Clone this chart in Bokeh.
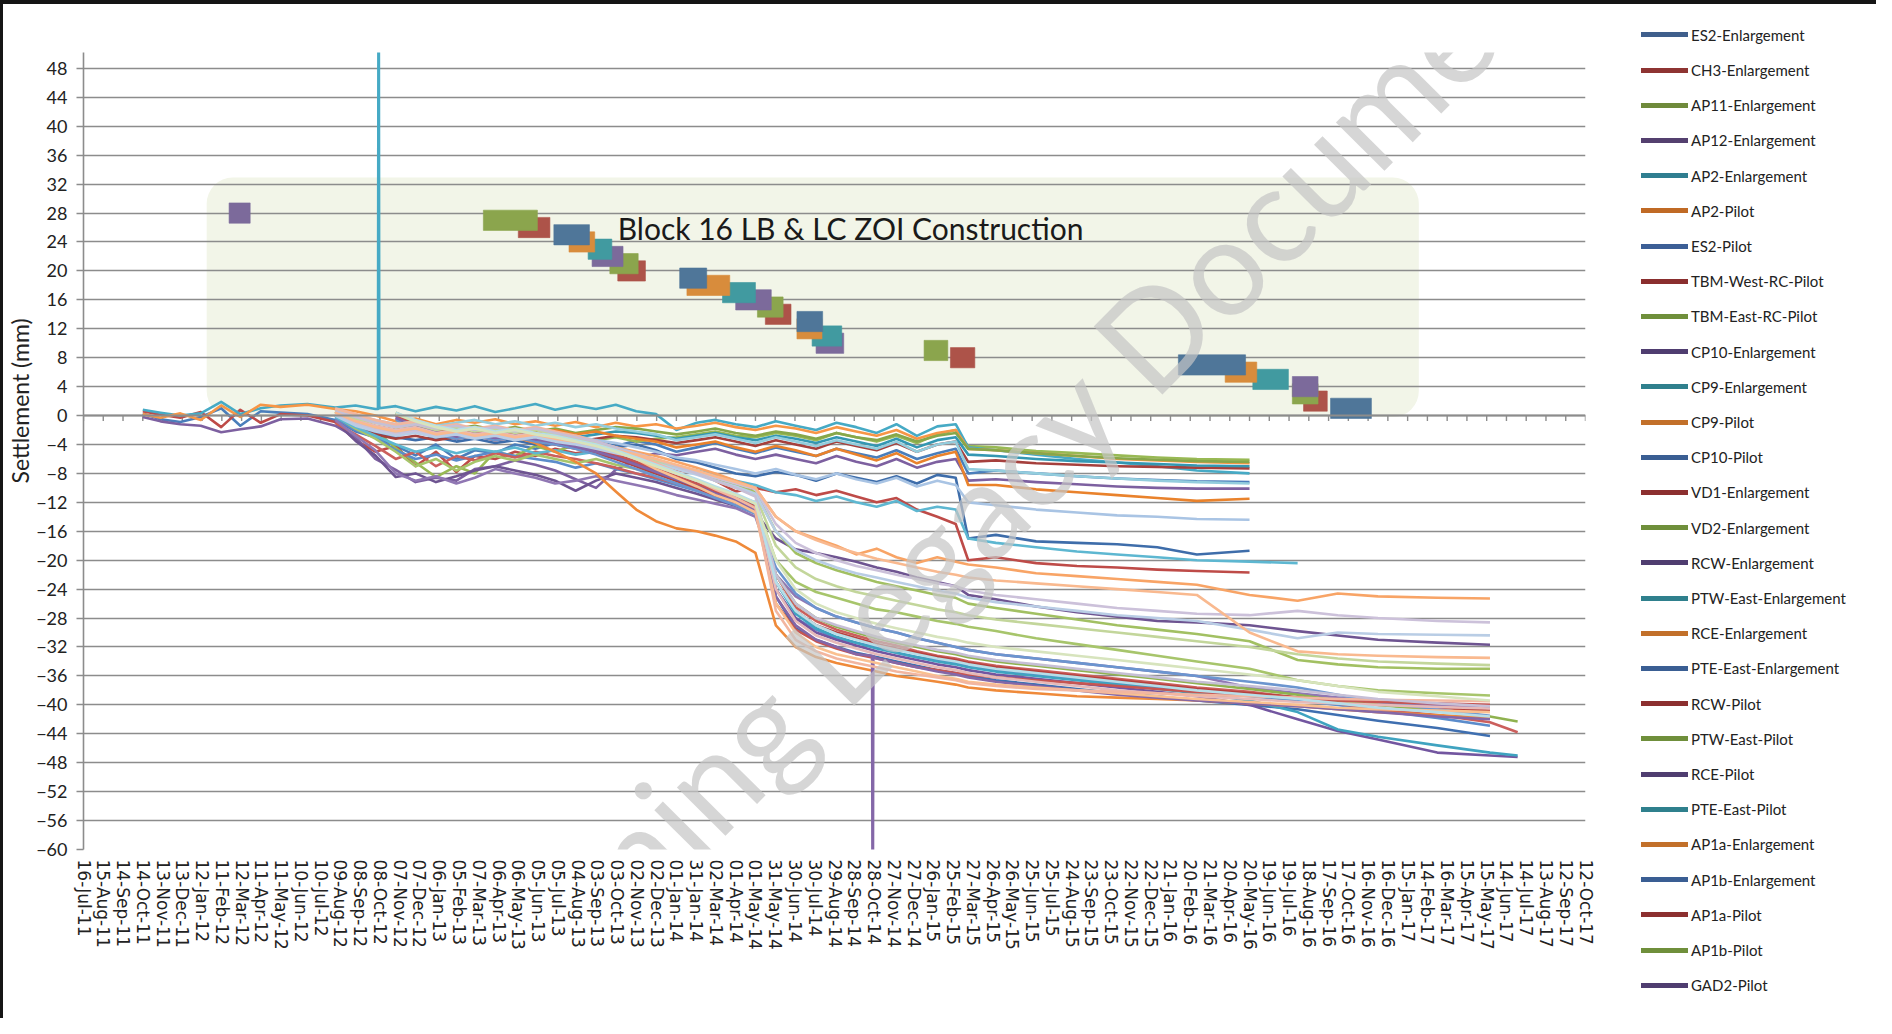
import numpy as np
import pandas as pd
from bokeh.plotting import figure
from bokeh.layouts import row
from bokeh.models import (Range1d, FixedTicker, SingleIntervalTicker, DatetimeTickFormatter,
                          BoxAnnotation, Span, Label, Title, Div)
from bokeh.embed import file_html
from bokeh.resources import INLINE

# ---------------- data ----------------
x_tick_labels = [
    "16-Jul-11", "15-Aug-11", "14-Sep-11", "14-Oct-11", "13-Nov-11", "13-Dec-11", "12-Jan-12",
    "11-Feb-12", "12-Mar-12", "11-Apr-12", "11-May-12", "10-Jun-12", "10-Jul-12", "09-Aug-12",
    "08-Sep-12", "08-Oct-12", "07-Nov-12", "07-Dec-12", "06-Jan-13", "05-Feb-13", "07-Mar-13",
    "06-Apr-13", "06-May-13", "05-Jun-13", "05-Jul-13", "04-Aug-13", "03-Sep-13", "03-Oct-13",
    "02-Nov-13", "02-Dec-13", "01-Jan-14", "31-Jan-14", "02-Mar-14", "01-Apr-14", "01-May-14",
    "31-May-14", "30-Jun-14", "30-Jul-14", "29-Aug-14", "28-Sep-14", "28-Oct-14", "27-Nov-14",
    "27-Dec-14", "26-Jan-15", "25-Feb-15", "27-Mar-15", "26-Apr-15", "26-May-15", "25-Jun-15",
    "25-Jul-15", "24-Aug-15", "23-Sep-15", "23-Oct-15", "22-Nov-15", "22-Dec-15", "21-Jan-16",
    "20-Feb-16", "21-Mar-16", "20-Apr-16", "20-May-16", "19-Jun-16", "19-Jul-16", "18-Aug-16",
    "17-Sep-16", "17-Oct-16", "16-Nov-16", "16-Dec-16", "15-Jan-17", "14-Feb-17", "16-Mar-17",
    "15-Apr-17", "15-May-17", "14-Jun-17", "14-Jul-17", "13-Aug-17", "12-Sep-17", "12-Oct-17"]

survey_dates = [
    "2011-10-14", "2011-11-10", "2011-12-10", "2012-01-10", "2012-02-10",
    "2012-03-10", "2012-04-10", "2012-05-10", "2012-06-20", "2012-08-01",
    "2012-09-01", "2012-10-01", "2012-11-01", "2012-12-01", "2013-01-01",
    "2013-02-01", "2013-03-01", "2013-04-01", "2013-05-01", "2013-06-01",
    "2013-07-01", "2013-08-01", "2013-09-01", "2013-10-01", "2013-11-01",
    "2013-12-01", "2014-01-01", "2014-02-01", "2014-03-01", "2014-04-01",
    "2014-05-01", "2014-06-01", "2014-07-01", "2014-08-01", "2014-09-01",
    "2014-10-01", "2014-11-01", "2014-12-01", "2015-01-01", "2015-02-01",
    "2015-03-01", "2015-03-20", "2015-05-01", "2015-07-01", "2015-09-01",
    "2015-11-01", "2016-01-01", "2016-03-01", "2016-05-20", "2016-08-01",
    "2016-10-01", "2016-12-01", "2017-03-01", "2017-05-20", "2017-07-01"]

# settlement readings (mm); each series starts at the survey index given in series_start
ES2_Enlargement = [0.3, -0.5, -0.9, -0.2, 1.0, -1.4, 0.6, 0.4, 0.2, -0.6,
    -2.2, -3.0, -4.2, -5.5, -4.0, -6.0, -4.8, -5.2, -4.0, -4.6, -3.8, -4.4, -3.6, -4.2, -3.5, -4.0,
    -5.0, -4.4, -3.8, -4.6, -5.2, -4.4, -5.0, -5.6, -4.6, -5.2, -5.8, -4.8, -6.0, -5.2, -4.6,
    -8.0, -7.6, -8.0, -8.4, -8.7, -8.9, -9.1, -9.2]
CH3_Enlargement = [0.6, 0.1, -0.3, 0.5, -1.6, 0.8, -1.0, 0.2, 0.0, -0.9,
    -3.4, -5.0, -4.2, -7.0, -5.0, -7.8, -5.6, -6.0, -5.0, -5.6, -4.6, -5.2, -4.8, -5.6, -6.0, -6.5,
    -7.5, -8.0, -9.0, -10.5, -10.0, -10.6, -10.2, -11.0, -10.4, -11.2, -12.0, -11.4, -13.0, -14.0, -15.0,
    -20.0, -19.6, -20.4, -20.8, -21.0, -21.3, -21.5, -21.7]
AP11_Enlargement = [0.5, -1.0, -2.0, -4.5, -6.5, -8.5, -7.0, -8.0, -5.0, -5.6, -4.2, -5.0, -4.0, -3.4, -3.0, -3.6, -3.2,
    -3.0, -2.6, -2.2, -2.8, -3.0, -2.4, -2.8, -3.4, -2.4, -3.0, -3.6, -2.8, -3.8, -2.6, -2.0,
    -4.2, -4.4, -4.9, -5.2, -5.5, -5.8, -6.0, -6.1]
AP12_Enlargement = [-0.2, -0.8, -1.2, -1.4, -2.3, -1.9, -1.5, -0.5, -0.4, -1.4,
    -3.0, -6.0, -7.5, -9.2, -8.6, -9.0, -7.4, -7.0, -6.2, -6.8, -7.6, -8.8, -10.0, -7.5, -6.0, -5.2,
    -5.5, -5.0, -4.6, -5.4, -6.0, -5.4, -6.0, -6.6, -5.6, -6.4, -7.0, -6.0, -7.2, -6.4, -6.0,
    -9.0, -8.8, -9.2, -9.5, -9.8, -10.0, -10.1, -10.1]
AP2_Enlargement = [0.8, 0.4, 0.0, 0.3, 1.9, 0.2, 1.0, 1.4, 1.6, 1.1,
    1.4, 0.9, 1.3, 0.6, 1.2, 0.7, 1.3, 0.5, 1.0, 1.6, 0.8, 1.4, 0.9, 1.5, 0.6, 0.2,
    -2.0, -1.0, -0.6, -1.2, -1.6, -0.8, -1.4, -2.0, -1.0, -1.6, -2.4, -1.2, -2.8, -1.5, -1.2,
    -4.4, -4.8, -5.4, -6.0, -6.5, -7.0, -7.6, -8.0]
AP2_Pilot = [0.2, -0.3, 0.3, -0.6, 1.4, -0.2, 1.5, 1.2, 1.5, 0.9,
    0.6, 0.0, -0.8, -0.4, -1.2, -0.6, -1.0, -0.5, -1.2, -0.8, -1.4, -0.9, -1.6, -1.0, -1.5, -1.2,
    -1.8, -1.4, -1.0, -1.6, -2.0, -1.4, -1.8, -2.4, -1.6, -2.2, -2.8, -2.0, -3.2, -2.4, -2.0,
    -4.6, -4.8, -5.2, -5.6, -6.0, -6.2, -6.4, -6.6]
ES2_Pilot = [0.0, -1.5, -2.4, -3.0, -3.4, -3.0, -3.6, -3.2, -3.8, -3.4, -4.0, -3.6, -4.2, -3.8, -4.4, -4.0, -4.8,
    -6.0, -6.5, -7.2, -8.0, -8.4, -7.8, -8.2, -9.0, -8.0, -8.6, -9.2, -8.4, -9.4, -8.2, -8.6,
    -17.0, -16.5, -17.4, -17.6, -17.8, -18.2, -19.2, -18.7]
TBM_West_RC_Pilot = [-0.5, -1.8, -2.6, -3.2, -2.8, -3.4, -3.0, -2.6, -3.2, -2.8, -3.4, -3.0, -3.6, -3.2, -2.8, -3.0, -3.4,
    -3.8, -3.4, -3.0, -3.6, -4.2, -3.4, -4.0, -4.6, -3.6, -4.2, -4.8, -3.8, -5.0, -4.0, -3.6,
    -6.4, -6.2, -6.6, -6.8, -7.0, -7.1, -7.2, -7.3]
TBM_East_RC_Pilot = [0.2, -0.8, -1.5, -2.0, -1.6, -2.2, -1.8, -1.4, -2.0, -1.6, -2.2, -1.8, -2.4, -2.0, -1.6, -1.8, -2.2,
    -2.6, -2.2, -1.8, -2.4, -2.8, -2.2, -2.6, -3.2, -2.4, -3.0, -3.4, -2.6, -3.6, -2.8, -2.4,
    -4.6, -4.8, -5.2, -5.6, -5.9, -6.1, -6.3, -6.4]
CP10_Enlargement = [-0.8, -3.5, -5.5, -8.5, -8.0, -9.2, -8.4, -7.6, -7.0, -7.6, -8.2, -9.0, -10.4, -9.0, -8.0, -8.6, -9.2,
    -10.0, -10.8, -11.6, -12.5, -13.5, -17.0, -18.5, -19.0, -19.6, -20.2, -21.0, -21.6, -22.4, -23.0, -23.6,
    -24.8, -25.4, -26.4, -27.2, -27.8, -28.4, -28.6, -29.0, -29.8, -30.4, -31.0, -31.4, -31.7]
CP9_Enlargement = [-0.2, -1.4, -2.0, -2.6, -2.2, -2.8, -2.4, -2.0, -2.6, -2.2, -2.8, -2.4, -3.0, -2.6, -2.2, -2.4, -2.8,
    -3.2, -2.8, -2.4, -3.0, -3.4, -2.8, -3.2, -3.8, -3.0, -3.6, -4.2, -3.2, -4.4, -3.4, -3.0,
    -5.4, -5.6, -6.0, -6.3, -6.5, -6.7, -6.9, -7.0]
CP9_Pilot = [0.6, -0.6, -1.4, -2.0, -1.6, -2.4, -2.0, -1.6, -2.2, -1.8, -2.4, -2.0, -2.6, -2.2, -2.8, -3.2, -3.6,
    -4.4, -4.0, -3.6, -4.4, -5.0, -4.2, -4.8, -5.6, -4.6, -5.4, -6.2, -5.2, -6.6, -5.6, -5.0,
    -9.6, -9.6, -10.2, -10.6, -11.0, -11.4, -11.8, -11.5]
CP10_Pilot = [-0.4, -2.0, -3.0, -4.8, -6.0, -5.4, -6.2, -5.6, -5.0, -5.6, -6.0, -6.4, -7.2, -6.6, -7.4, -8.0, -8.8,
    -9.6, -10.4, -11.2, -12.0, -13.0, -24.0, -28.0, -29.6, -30.8, -31.4, -32.0, -32.8, -33.4, -33.8, -34.2,
    -34.6, -35.2, -35.8, -36.4, -37.0, -37.6, -38.2, -38.8, -39.4, -40.0, -40.8, -41.8, -42.9]
VD1_Enlargement = [-1.0, -2.6, -4.2, -6.0, -5.0, -7.0, -5.6, -6.2, -5.2, -5.8, -5.0, -5.6, -6.0, -6.6, -7.2, -8.0, -8.6,
    -9.4, -10.2, -11.0, -11.8, -13.0, -22.0, -26.5, -28.4, -29.6, -30.4, -31.2, -31.8, -32.6, -33.2, -33.6,
    -34.0, -34.6, -35.2, -35.8, -36.4, -37.0, -37.6, -38.2, -39.0, -39.8, -40.6, -41.4, -42.4, -43.8]
VD2_Enlargement = [0.0, -1.8, -3.2, -5.0, -7.0, -6.0, -7.6, -6.4, -5.6, -6.2, -5.4, -6.0, -6.6, -6.0, -6.8, -7.4, -8.0,
    -9.0, -9.8, -10.6, -11.2, -12.0, -20.0, -23.0, -24.4, -25.2, -26.0, -26.8, -27.2, -27.8, -28.4, -28.8,
    -29.2, -29.8, -30.8, -31.6, -32.4, -33.2, -34.0, -35.0, -36.6, -37.4, -38.0, -38.4, -38.7]
RCW_Enlargement = [-0.6, -2.8, -4.8, -8.0, -9.0, -8.4, -9.4, -8.6, -7.4, -8.0, -8.6, -9.4, -9.0, -8.4, -9.0, -9.6, -10.2,
    -11.0, -11.6, -12.2, -12.8, -14.0, -22.0, -25.0, -26.6, -27.8, -28.6, -29.4, -30.0, -30.8, -31.4, -32.0,
    -32.4, -33.0, -33.6, -34.2, -34.8, -35.4, -36.0, -37.6, -38.4, -39.0, -39.6, -40.0, -40.3]
PTW_East_Enlargement = [-0.2, -1.6, -2.8, -4.0, -5.0, -4.4, -5.2, -4.6, -5.0, -4.4, -5.2, -4.8, -5.4, -5.0, -5.6, -6.0, -6.4,
    -7.0, -7.6, -8.2, -9.0, -9.6, -10.6, -11.0, -11.8, -11.2, -12.0, -12.6, -11.8, -13.2, -12.6, -13.0,
    -17.0, -17.6, -18.2, -18.8, -19.2, -19.6, -20.0, -20.2, -20.4]
RCE_Enlargement = [0.0, -1.2, -2.0, -2.6, -2.2, -2.8, -2.4, -3.0, -2.6, -3.2, -3.8, -4.4, -5.0, -5.6,
    -6.4, -7.2, -8.0, -9.0, -10.0, -14.0, -16.0, -17.0, -18.0, -19.2, -18.4, -19.6, -20.4, -19.6, -20.2,
    -20.6, -21.0, -21.8, -22.2, -22.6, -23.0, -23.4, -24.8, -25.6, -24.6, -25.0, -25.2, -25.3]
PTE_East_Enlargement = [0.2, -1.0, -1.8, -2.4, -2.0, -2.6, -2.2, -2.8, -3.2, -3.8, -4.4, -5.2, -6.2, -7.2,
    -8.4, -9.4, -10.4, -11.4, -12.6, -25.0, -29.4, -31.0, -32.0, -32.8, -33.4, -34.0, -34.6, -35.2, -35.6,
    -36.0, -36.6, -37.2, -37.8, -38.4, -38.8, -39.4, -40.0, -40.6, -41.4, -42.2, -43.2, -44.3]
RCW_Pilot = [-0.4, -1.6, -2.6, -3.2, -2.8, -3.4, -3.0, -3.6, -4.0, -4.6, -5.2, -6.0, -7.0, -8.0,
    -9.0, -10.0, -11.0, -12.0, -13.4, -23.0, -27.0, -29.0, -30.0, -30.8, -31.6, -32.2, -32.8, -33.4, -33.8,
    -34.2, -34.8, -35.4, -36.0, -36.6, -37.2, -37.8, -38.4, -39.0, -39.6, -40.0, -40.4, -40.8]
PTW_East_Pilot = [0.4, -0.8, -1.6, -2.2, -1.8, -2.4, -2.0, -2.6, -3.0, -3.6, -4.2, -5.0, -6.0, -7.0,
    -8.0, -9.0, -10.0, -11.0, -12.2, -22.0, -26.0, -28.0, -29.2, -30.0, -30.8, -31.4, -32.0, -32.6, -33.0,
    -33.4, -34.0, -34.6, -35.2, -35.8, -36.4, -37.0, -37.8, -38.6, -39.4, -40.0, -40.8, -41.6, -42.3]
RCE_Pilot = [-0.2, -1.4, -2.2, -2.8, -2.4, -3.0, -2.6, -3.2, -3.6, -4.2, -4.8, -5.6, -6.6, -7.6,
    -8.6, -9.6, -10.6, -11.6, -13.0, -24.0, -28.0, -30.0, -31.0, -31.8, -32.6, -33.2, -33.8, -34.4, -34.8,
    -35.2, -35.8, -36.4, -37.0, -37.6, -38.2, -38.8, -40.0, -42.0, -43.6, -44.8, -46.6, -47.0, -47.2]
PTE_East_Pilot = [0.0, -1.0, -1.8, -2.4, -2.0, -2.6, -2.2, -2.8, -3.2, -3.8, -4.4, -5.2, -6.2, -7.2,
    -8.2, -9.2, -10.2, -11.2, -12.4, -23.0, -27.4, -29.4, -30.6, -31.4, -32.2, -32.8, -33.4, -34.0, -34.4,
    -34.8, -35.4, -36.0, -36.6, -37.2, -37.8, -38.4, -39.4, -41.0, -43.4, -44.4, -45.6, -46.6, -47.0]
AP1a_Enlargement = [0.2, -1.0, -1.8, -2.4, -2.0, -2.8, -3.0, -3.8, -5.0, -6.4, -8.0, -10.5, -13.0, -14.6,
    -15.6, -16.0, -16.6, -17.4, -19.0, -29.0, -32.0, -33.4, -34.2, -34.8, -35.4, -36.0, -36.4, -36.8, -37.2,
    -37.6, -38.0, -38.4, -38.8, -39.0, -39.2, -39.4, -39.8, -40.2, -40.6, -41.0, -41.4, -41.8]
AP1b_Enlargement = [-0.6, -1.8, -2.6, -3.2, -2.8, -3.4, -3.0, -3.6, -4.0, -4.6, -5.4, -6.4, -7.4, -8.4,
    -9.4, -10.4, -11.4, -12.4, -13.6, -21.0, -24.6, -26.6, -27.8, -28.6, -29.4, -30.0, -30.8, -31.4, -32.0,
    -32.4, -33.0, -33.6, -34.2, -34.8, -35.4, -36.0, -36.8, -37.6, -38.6, -39.6, -40.6, -41.5]
AP1a_Pilot = [0.0, -1.2, -2.0, -2.6, -2.2, -2.8, -2.4, -3.0, -3.4, -4.0, -4.6, -5.4, -6.4, -7.4,
    -8.4, -9.4, -10.4, -11.4, -12.6, -26.0, -29.6, -31.2, -32.2, -33.0, -33.6, -34.2, -34.8, -35.2, -35.6,
    -35.8, -36.2, -36.6, -37.0, -37.4, -37.8, -38.2, -38.6, -39.0, -39.4, -39.6, -39.8, -40.0]
AP1b_Pilot = [0.3, -0.9, -1.6, -2.2, -1.8, -2.4, -2.0, -2.6, -3.0, -3.4, -4.0, -4.8, -5.6, -6.4,
    -7.2, -8.0, -8.8, -9.6, -10.6, -16.0, -19.0, -20.4, -21.4, -22.2, -23.0, -23.6, -24.2, -24.8, -25.2,
    -26.0, -26.6, -27.4, -28.2, -29.0, -29.6, -30.2, -31.2, -33.8, -34.4, -34.8, -35.0, -35.0]
GAD2_Pilot = [-0.3, -1.5, -2.3, -2.9, -2.5, -3.1, -2.7, -3.3, -3.7, -4.3, -5.0, -5.8, -6.8, -7.8,
    -8.8, -9.8, -10.8, -11.8, -13.2, -25.0, -29.0, -31.0, -32.0, -33.0, -33.6, -34.2, -34.8, -35.4, -35.8,
    -36.2, -36.8, -37.4, -38.0, -38.6, -39.0, -39.4, -39.8, -40.2, -40.6, -41.0, -41.6, -42.0]

# further monitoring points plotted but not listed in the legend
other_points_1 = [0.2, -1.0, -1.8, -2.4, -2.0, -2.6, -2.2, -2.8, -2.4, -3.0, -2.6, -3.2, -2.8, -3.4, -3.8, -4.4, -5.0,
    -5.8, -6.2, -6.8, -7.4, -8.0, -7.4, -8.2, -8.8, -8.0, -8.8, -9.4, -8.6, -9.8, -9.0, -9.6,
    -12.0, -12.4, -13.0, -13.4, -13.8, -14.0, -14.3, -14.4]
other_points_2 = [0.8, 0.0, -0.6, -1.2, -0.8, -1.4, -1.0, -0.6, -1.2, -0.8, -1.4, -1.0, -1.6, -1.2, -1.8, -2.2, -2.6,
    -3.4, -3.0, -2.6, -3.2, -3.8, -3.0, -3.6, -4.2, -3.4, -4.0, -4.6, -3.6, -5.0, -4.0, -3.6,
    -7.4, -7.6, -8.0, -8.4, -8.7, -9.0, -9.2, -9.4]
other_points_3 = [0.4, -0.6, -1.4, -2.0, -1.6, -2.4, -2.0, -2.6, -2.2, -2.8, -2.4, -3.0, -3.6, -4.2, -5.0, -6.0, -7.0,
    -8.0, -9.0, -10.0, -11.0, -12.0, -24.0, -28.4, -30.4, -31.4, -32.2, -33.0, -33.6, -34.2, -34.8, -35.2,
    -35.6, -36.2, -36.8, -37.4, -38.0, -38.4, -38.8, -39.2, -39.6, -39.8, -40.0, -40.3, -40.5]
other_points_4 = [0.8, 0.2, -0.8, -1.4, -1.0, -1.8, -1.4, -2.0, -1.6, -2.2, -1.8, -2.4, -3.0, -3.8, -4.8, -6.0, -7.4,
    -8.6, -9.8, -11.0, -12.0, -13.4, -26.0, -30.0, -32.0, -33.0, -33.6, -34.2, -34.8, -35.4, -36.0, -36.4,
    -36.8, -37.2, -37.6, -38.0, -38.4, -38.8, -39.2, -39.6, -40.0, -40.4, -40.6, -40.8, -41.0]
other_points_5 = [0.2, -1.2, -2.0, -2.6, -2.2, -2.8, -2.4, -3.0, -2.6, -3.2, -2.8, -3.4, -3.8, -4.4, -5.0, -5.6, -6.2,
    -7.0, -7.8, -8.6, -9.4, -10.2, -15.0, -17.6, -19.0, -20.0, -20.8, -21.4, -22.0, -22.6, -23.2, -23.6,
    -24.2, -24.8, -25.4, -26.0, -26.6, -27.0, -27.4, -27.6, -27.0, -27.6, -28.0, -28.4, -28.6]
other_points_6 = [0.6, -0.4, -1.0, -1.6, -1.2, -2.0, -1.6, -2.2, -1.8, -2.4, -2.0, -2.6, -3.2, -3.8, -4.6, -5.4, -6.2,
    -7.2, -8.0, -9.0, -10.0, -11.0, -18.0, -21.0, -22.6, -23.6, -24.4, -25.0, -25.6, -26.2, -26.8, -27.2,
    -27.6, -28.2, -28.8, -29.4, -30.0, -30.6, -31.2, -32.0, -33.0, -33.6, -34.0, -34.3, -34.5]
other_points_7 = [0.0, -1.4, -2.2, -2.8, -2.4, -3.0, -2.6, -3.2, -2.8, -3.4, -3.0, -3.6, -4.0, -4.6, -5.2, -5.8, -6.6,
    -7.4, -8.2, -9.0, -9.8, -10.8, -16.0, -18.6, -20.0, -21.0, -21.8, -22.4, -23.0, -23.6, -24.2, -24.6,
    -25.2, -25.8, -26.4, -27.0, -27.6, -28.0, -28.4, -29.6, -30.8, -30.0, -30.2, -30.3, -30.4]
other_points_8 = [1.0, 0.2, -0.6, -1.2, -0.8, -1.6, -1.2, -1.8, -1.4, -2.0, -1.6, -2.2, -2.8, -3.6, -4.4, -5.4, -6.6,
    -7.8, -9.0, -10.2, -11.4, -12.8, -27.0, -31.0, -32.6, -33.6, -34.2, -34.8, -35.4, -35.8, -36.2, -36.6,
    -37.0, -37.4, -37.8, -38.0, -38.2, -38.4, -38.6, -38.8, -39.0, -39.2, -39.3, -39.4, -39.5]
other_points_9 = [0.6, -0.2, -1.0, -1.6, -1.2, -1.8, -1.4, -2.0, -1.6, -2.2, -1.8, -2.4, -3.0, -3.6, -4.4, -5.2, -6.0,
    -7.0, -8.0, -9.0, -10.0, -11.2, -22.0, -26.0, -28.0, -29.0, -29.8, -30.6, -31.2, -31.8, -32.4, -32.8,
    -33.2, -33.8, -34.4, -35.0, -35.6, -36.2, -36.8, -37.4, -38.0, -38.6, -39.2, -39.8, -40.2]
other_points_10 = [0.4, -0.8, -1.6, -2.2, -1.8, -2.6, -2.2, -2.8, -2.4, -3.0, -2.6, -3.2, -3.6, -4.2, -4.8, -5.4, -6.0,
    -6.8, -7.6, -8.4, -9.2, -10.0, -14.0, -16.0, -17.2, -18.2, -19.0, -19.8, -20.4, -21.0, -21.6, -22.0,
    -22.4, -22.8, -23.2, -23.6, -24.0, -24.4, -24.8, -30.0, -32.6, -33.0, -33.2, -33.4, -33.5]
other_points_11 = [0.4, -0.6, -1.4, -2.0, -1.6, -2.2, -1.8, -2.4, -2.8, -3.4, -4.0, -4.8, -5.8, -6.8,
    -7.8, -8.8, -9.8, -10.8, -12.0, -23.0, -27.0, -29.0, -30.2, -31.0, -31.8, -32.4, -33.0, -33.6, -34.0,
    -34.4, -35.0, -35.6, -36.2, -36.8, -37.4, -38.0, -38.6, -39.2, -39.8, -40.4, -41.0, -41.6]
other_points_12 = [0.2, -0.8, -1.6, -2.2, -1.8, -2.4, -2.0, -2.6, -3.0, -3.6, -4.2, -5.0, -6.0, -7.0,
    -8.0, -9.0, -10.0, -11.0, -12.2, -20.0, -24.0, -26.0, -27.2, -28.0, -28.8, -29.4, -30.0, -30.6, -31.0,
    -31.4, -32.0, -32.6, -33.2, -33.8, -34.4, -35.0, -35.8, -36.6, -37.4, -38.2, -38.8, -39.4]

# isolated spurious readings
AP2_Enlargement_spike_dates = ["2012-10-05", "2012-10-06", "2012-10-07"]
AP2_Enlargement_spike_values = [0.9, 80.0, 1.0]
GAD2_Pilot_spike_dates = ["2014-10-25", "2014-10-26", "2014-10-27"]
GAD2_Pilot_spike_values = [-33.2, -80.0, -33.3]

series_names = ["ES2-Enlargement", "CH3-Enlargement", "AP11-Enlargement", "AP12-Enlargement",
    "AP2-Enlargement", "AP2-Pilot", "ES2-Pilot", "TBM-West-RC-Pilot", "TBM-East-RC-Pilot",
    "CP10-Enlargement", "CP9-Enlargement", "CP9-Pilot", "CP10-Pilot", "VD1-Enlargement",
    "VD2-Enlargement", "RCW-Enlargement", "PTW-East-Enlargement", "RCE-Enlargement",
    "PTE-East-Enlargement", "RCW-Pilot", "PTW-East-Pilot", "RCE-Pilot", "PTE-East-Pilot",
    "AP1a-Enlargement", "AP1b-Enlargement", "AP1a-Pilot", "AP1b-Pilot", "GAD2-Pilot"]
series_values = [ES2_Enlargement, CH3_Enlargement, AP11_Enlargement, AP12_Enlargement,
    AP2_Enlargement, AP2_Pilot, ES2_Pilot, TBM_West_RC_Pilot, TBM_East_RC_Pilot,
    CP10_Enlargement, CP9_Enlargement, CP9_Pilot, CP10_Pilot, VD1_Enlargement,
    VD2_Enlargement, RCW_Enlargement, PTW_East_Enlargement, RCE_Enlargement,
    PTE_East_Enlargement, RCW_Pilot, PTW_East_Pilot, RCE_Pilot, PTE_East_Pilot,
    AP1a_Enlargement, AP1b_Enlargement, AP1a_Pilot, AP1b_Pilot, GAD2_Pilot]
series_start = [0, 0, 9, 0, 0, 0, 9, 9, 9, 9, 9, 9, 9, 9, 9, 9, 9,
                12, 12, 12, 12, 12, 12, 12, 12, 12, 12, 12]
series_colors = ["#4A7EBB", "#BE4B48", "#98B954", "#7D60A0", "#46AAC5", "#F79646",
    "#3E6DAA", "#A5403D", "#87A74A", "#6E5491", "#3497B2", "#E9822C",
    "#5B8CCB", "#CB5F5C", "#A7C56B", "#9077B3", "#5DB7D1", "#F8A466",
    "#3F6FB0", "#B5413E", "#8FB24F", "#7356A0", "#3FA3C0", "#EF8A3A",
    "#6B95CF", "#C65552", "#A2C062", "#8467A8"]
legend_colors = ["#3F5F8C", "#8E3432", "#6F8A3B", "#54406F", "#2F7E90", "#C06A25",
    "#3C5F96", "#8A2E2E", "#6F8F3B", "#4F3D70", "#2F808D", "#C2702A",
    "#3A5E93", "#8C2F2F", "#6F8F3B", "#4F3D70", "#2F808D", "#C2702A",
    "#3A5E93", "#8C2F2F", "#6F8F3B", "#4F3D70", "#2F808D", "#C2702A",
    "#3A5E93", "#8C2F2F", "#6F8F3B", "#4F3D70"]
series_spikes = {"AP2-Enlargement": (AP2_Enlargement_spike_dates, AP2_Enlargement_spike_values),
                 "GAD2-Pilot": (GAD2_Pilot_spike_dates, GAD2_Pilot_spike_values)}

other_values = [other_points_1, other_points_2, other_points_3, other_points_4, other_points_5,
    other_points_6, other_points_7, other_points_8, other_points_9, other_points_10,
    other_points_11, other_points_12]
other_start = [9, 9, 9, 9, 9, 9, 9, 9, 9, 9, 12, 12]
other_colors = ["#A9C4E4", "#93CDDD", "#E6B9B8", "#FAC090", "#CCC1DA", "#C3D69B",
    "#B9CDE5", "#F2B6A0", "#C6BFD6", "#F9B98F", "#B7DEE8", "#D7E4BD"]

# construction activities (zone of influence), drawn as bars
zoi_level = [28, 27, 26, 25, 24, 23, 22, 21, 20, 19, 18, 17, 16, 15, 14,
             13, 12, 11, 10, 9, 8, 7, 6, 5, 4, 3, 2, 1]
zoi_start = ["2012-02-22", "2013-03-14", "2013-05-06", "2013-06-29", "2013-07-22", "2013-08-20",
    "2013-08-26", "2013-09-22", "2013-10-04", "2014-01-06", "2014-01-17", "2014-03-12",
    "2014-04-01", "2014-05-04", "2014-05-16", "2014-07-03", "2014-07-03", "2014-07-26",
    "2014-08-01", "2015-01-12", "2015-02-21", "2016-02-02", "2016-04-13", "2016-05-25",
    "2016-07-24", "2016-07-24", "2016-08-10", "2016-09-20"]
zoi_end = ["2012-03-25", "2013-06-04", "2013-06-23", "2013-08-22", "2013-08-30", "2013-09-25",
    "2013-10-12", "2013-11-04", "2013-11-15", "2014-02-16", "2014-03-23", "2014-05-01",
    "2014-05-25", "2014-06-12", "2014-06-24", "2014-08-11", "2014-08-10", "2014-09-09",
    "2014-09-12", "2015-02-17", "2015-03-30", "2016-05-14", "2016-05-31", "2016-07-18",
    "2016-09-01", "2016-09-01", "2016-09-15", "2016-11-21"]
zoi_colors = ["#7C6A9B", "#8BA54D", "#AD5349", "#4F7699", "#D88C3C", "#419AA0",
    "#7C6A9B", "#8BA54D", "#AD5349", "#4F7699", "#D88C3C", "#419AA0",
    "#7C6A9B", "#8BA54D", "#AD5349", "#4F7699", "#D88C3C", "#419AA0",
    "#7C6A9B", "#8BA54D", "#AD5349", "#4F7699", "#D88C3C", "#419AA0",
    "#7C6A9B", "#8BA54D", "#AD5349", "#4F7699"]

zone_text = "Block 16 LB & LC ZOI Construction"
zone_start, zone_end = "2012-01-19", "2017-02-01"
zone_bottom, zone_top = -0.2, 32.9
zone_text_date, zone_text_level = "2013-10-04", 25.9
watermark_text = "Learning Legacy Document"
watermark_date, watermark_level = "2015-04-27", -10.5

y_label = "Settlement (mm)"
y_min, y_max = -60, 50.2

# ---------------- plot ----------------
def ms(d):
    return pd.Timestamp(d).value // 10**6

tick_dt = pd.to_datetime(x_tick_labels, format="%d-%b-%y")
tick_ms = [int(t.value // 10**6) for t in tick_dt]
grid = pd.to_datetime(survey_dates)

FONT = "Lato"
H = 1018
W_MAIN, W_LEG = 1616, 260
p = figure(width=W_MAIN, height=H, x_axis_type="datetime", output_backend="svg",
           toolbar_location=None, min_border_left=71, min_border_right=34,
           min_border_top=48, min_border_bottom=173,
           x_range=Range1d(tick_ms[0], tick_ms[-1]), y_range=Range1d(y_min, y_max))
p.styles = {"border-top": "4px solid #151515", "border-left": "3px solid #151515"}
p.outline_line_color = None
p.background_fill_color = "white"
p.border_fill_color = "white"

# shaded construction zone
p.add_layout(BoxAnnotation(left=ms(zone_start), right=ms(zone_end), bottom=zone_bottom, top=zone_top,
                           fill_color="#F2F5E8", fill_alpha=1.0, line_color=None,
                           border_radius=26, level="image"))

# axes
xa = p.xaxis[0]
xa.ticker = FixedTicker(ticks=tick_ms)
fmt = "%d-%b-%y"
xa.formatter = DatetimeTickFormatter(days=fmt, months=fmt, years=fmt, hours=fmt, hourmin=fmt)
xa.major_label_orientation = -np.pi / 2
xa.axis_line_color = None
xa.major_tick_line_color = None
xa.minor_tick_line_color = None
xa.major_tick_out = 0
xa.major_tick_in = 0
xa.major_label_standoff = 10
xa.major_label_text_font = "DejaVu Sans"
xa.major_label_text_font_size = "17px"
xa.major_label_text_color = "#222222"

ya = p.yaxis[0]
ya.ticker = SingleIntervalTicker(interval=4, num_minor_ticks=0)
ya.axis_line_color = "#8c8c8c"
ya.axis_line_width = 1.6
ya.major_tick_line_color = "#8c8c8c"
ya.major_tick_line_width = 1.4
ya.major_tick_out = 7
ya.major_tick_in = 0
ya.minor_tick_line_color = None
ya.major_label_standoff = 9
ya.major_label_text_font = FONT
ya.major_label_text_font_size = "18px"
ya.major_label_text_color = "#222222"

ytitle = Title(text=y_label, align="left", offset=366, standoff=0,
               text_font=FONT, text_font_size="23px", text_font_style="normal",
               text_color="#222222")
p.add_layout(ytitle, "left")

p.xgrid.visible = False
p.ygrid.ticker = SingleIntervalTicker(interval=4, num_minor_ticks=0)
p.ygrid.grid_line_color = "#8c8c8c"
p.ygrid.grid_line_width = 1.6

# zero line with ticks
p.add_layout(Span(location=0, dimension="width", line_color="#8c8c8c", line_width=2))
p.segment(x0=tick_dt, y0=0, x1=tick_dt, y1=-0.75, line_color="#8c8c8c", line_width=1.4)

# settlement lines
for name, start, vals, color in zip(series_names, series_start, series_values, series_colors):
    xs = list(grid[start:start + len(vals)])
    ys = list(vals)
    if name in series_spikes:
        sd, sv = series_spikes[name]
        xs += list(pd.to_datetime(sd))
        ys += list(sv)
        order = np.argsort(np.array(xs, dtype="datetime64[ns]"))
        xs = [xs[i] for i in order]
        ys = [ys[i] for i in order]
    p.line(xs, ys, line_color=color, line_width=2.6, line_join="round")

for start, vals, color in zip(other_start, other_values, other_colors):
    xs = list(grid[start:start + len(vals)])
    p.line(xs, list(vals), line_color=color, line_width=2.6, line_join="round")

# construction bars (lowest level drawn first)
half_h = 1.4
for lvl, s, e, c in sorted(zip(zoi_level, zoi_start, zoi_end, zoi_colors)):
    p.quad(left=[pd.Timestamp(s)], right=[pd.Timestamp(e)], bottom=[lvl - half_h], top=[lvl + half_h],
           fill_color=c, line_color=c, line_alpha=0.6)

p.add_layout(Label(x=ms(zone_text_date), y=zone_text_level, text=zone_text,
                   text_font=FONT, text_font_size="30px", text_baseline="middle",
                   text_color="#1a1a1a"))

# watermark
p.add_layout(Label(x=ms(watermark_date), y=watermark_level, text=watermark_text,
                   angle=0.79, text_align="center", text_baseline="middle",
                   text_font=FONT, text_font_size="135px", text_color="#c4c4c4",
                   text_alpha=0.7, level="overlay"))

# legend block at right (positions in px inside the block)
leg_first, leg_step = 30.8, 35.2
leg_x0, leg_len, leg_gap = 25.0, 47, 3
parts = []
for i, (name, col) in enumerate(zip(series_names, legend_colors)):
    yc = leg_first + i * leg_step
    parts.append(
        f'<div style="position:absolute;left:{leg_x0}px;top:{yc - 2.5:.1f}px;'
        f'width:{leg_len}px;height:5px;background:{col};"></div>'
        f'<div style="position:absolute;left:{leg_x0 + leg_len + leg_gap}px;top:{yc - 10:.1f}px;'
        f'height:20px;line-height:20px;white-space:nowrap;">{name}</div>')
html = (f'<div style="position:relative;width:{W_LEG}px;height:{H - 4}px;'
        f'font-family:Lato;font-size:15px;color:#222222;">' + "".join(parts) + '</div>')
leg_div = Div(text=html, width=W_LEG, height=H, margin=0,
              styles={"border-top": "4px solid #151515"})

layout = row(p, leg_div)
open("out.html", "w").write(file_html(layout, INLINE))
